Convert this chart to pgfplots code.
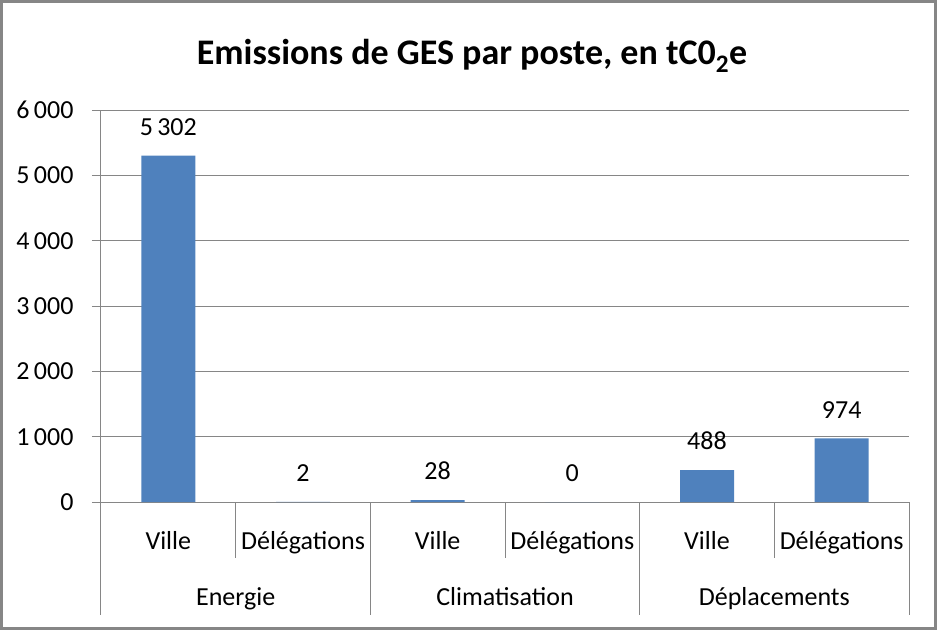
\documentclass[border=0pt]{standalone}
\usepackage{fontspec}
\setmainfont{Carlito}
\usepackage{pgfplots}
\pgfplotsset{compat=1.18}
\definecolor{barblue}{HTML}{4F81BD}
\definecolor{gridgray}{HTML}{868686}
\newcommand{\lbl}{\fontsize{26}{30}\selectfont}
\begin{document}
\begin{tikzpicture}
\useasboundingbox (-101pt,-128pt) rectangle (836pt,502pt);
\draw[gridgray, line width=3pt] (-99.5pt,-126pt) rectangle (834.5pt,500.5pt);
\begin{axis}[
  scale only axis, width=808pt, height=392pt,
  xmin=-0.5, xmax=5.5, ymin=0, ymax=6000,
  ybar, bar width=54pt,
  axis lines*=left,
  axis line style={gridgray, line width=1pt},
  ytick={0,1000,...,6000},
  ymajorgrids, grid style={gridgray, line width=1pt},
  tick align=outside, major tick length=9pt,
  ytick style={gridgray, line width=1pt},
  xtick={0,...,5},
  xticklabels={Ville,Délégations,Ville,Délégations,Ville,Délégations},
  xtick style={draw=none},
  tick label style={font=\lbl, black},
  x tick label style={anchor=base, yshift=-38pt},
  y tick label style={xshift=-15pt},
  /pgf/number format/1000 sep={\,},
  /pgf/number format/assume math mode=true,
  nodes near coords,
  nodes near coords style={font=\lbl, anchor=south, inner sep=0pt, yshift=20pt, black},
  clip=false,
]
\addplot[fill=barblue, draw=none] coordinates {(0,5302) (1,2) (2,28) (3,0) (4,488) (5,974)};
\draw[gridgray, line width=1pt] (axis cs:-0.5,0) -- ++(0pt,-113pt);
\draw[gridgray, line width=1pt] (axis cs:0.5,0) -- ++(0pt,-56pt);
\draw[gridgray, line width=1pt] (axis cs:1.5,0) -- ++(0pt,-113pt);
\draw[gridgray, line width=1pt] (axis cs:2.5,0) -- ++(0pt,-56pt);
\draw[gridgray, line width=1pt] (axis cs:3.5,0) -- ++(0pt,-113pt);
\draw[gridgray, line width=1pt] (axis cs:4.5,0) -- ++(0pt,-56pt);
\draw[gridgray, line width=1pt] (axis cs:5.5,0) -- ++(0pt,-113pt);
\node[anchor=base, font=\lbl, yshift=-103pt] at (axis cs:0.5,0) {Energie};
\node[anchor=base, font=\lbl, yshift=-103pt] at (axis cs:2.5,0) {Climatisation};
\node[anchor=base, font=\lbl, yshift=-103pt] at (axis cs:4.5,0) {Déplacements};
\end{axis}
\node[anchor=base, font=\bfseries\fontsize{36}{42}\selectfont] at (371pt,437pt) {Emissions de GES par poste, en tC0\textsubscript{2}e};
\end{tikzpicture}
\end{document}
